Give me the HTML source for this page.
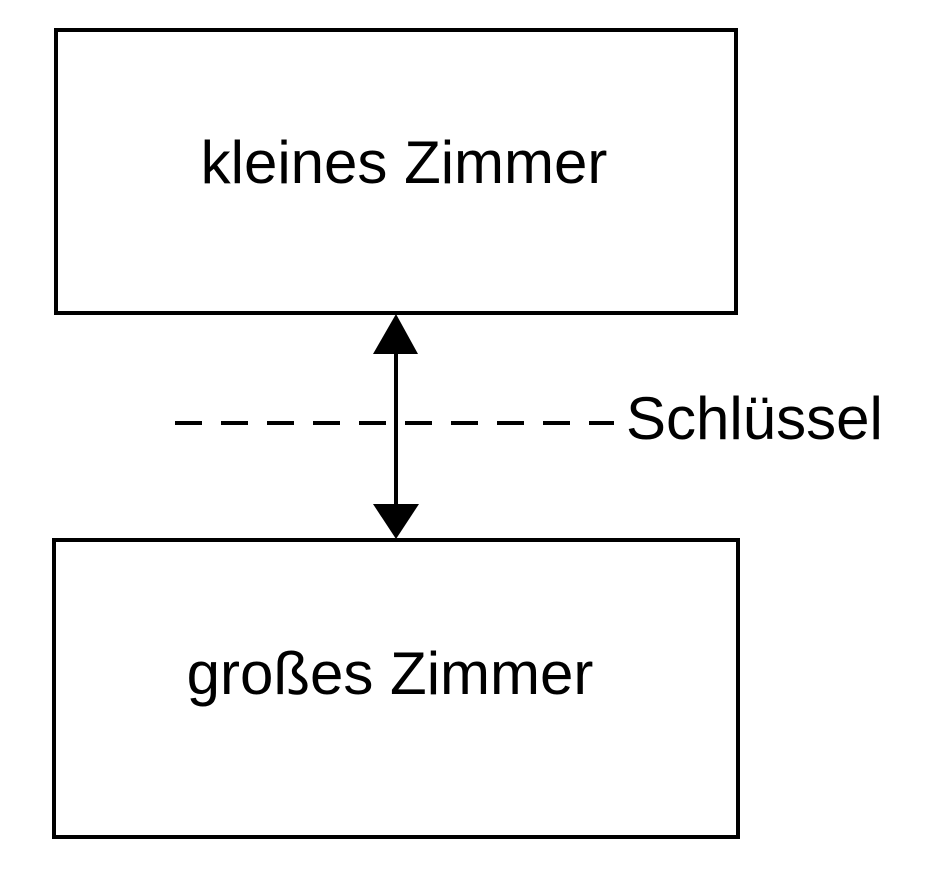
<!DOCTYPE html>
<html><head><meta charset="utf-8"><style>
html,body{margin:0;padding:0;background:#fff;}
</style></head><body>
<svg width="931" height="875" viewBox="0 0 931 875" xmlns="http://www.w3.org/2000/svg">
<rect x="56" y="30" width="680" height="283" fill="none" stroke="#000" stroke-width="4"/>
<rect x="54" y="540" width="684" height="297" fill="none" stroke="#000" stroke-width="4"/>
<text x="404" y="183" font-family="Liberation Sans, sans-serif" font-size="60" text-anchor="middle">kleines Zimmer</text>
<text x="390" y="694" font-family="Liberation Sans, sans-serif" font-size="60" text-anchor="middle">großes Zimmer</text>
<line x1="396" y1="345" x2="396" y2="510" stroke="#000" stroke-width="4"/>
<polygon points="396,314 373,354 418,354" fill="#000"/>
<polygon points="373,504 419,504 396,539" fill="#000"/>
<line x1="175" y1="423" x2="614" y2="423" stroke="#000" stroke-width="4" stroke-dasharray="27,19"/>
<text x="626" y="439" font-family="Liberation Sans, sans-serif" font-size="60">Schlüssel</text>
</svg>
</body></html>
